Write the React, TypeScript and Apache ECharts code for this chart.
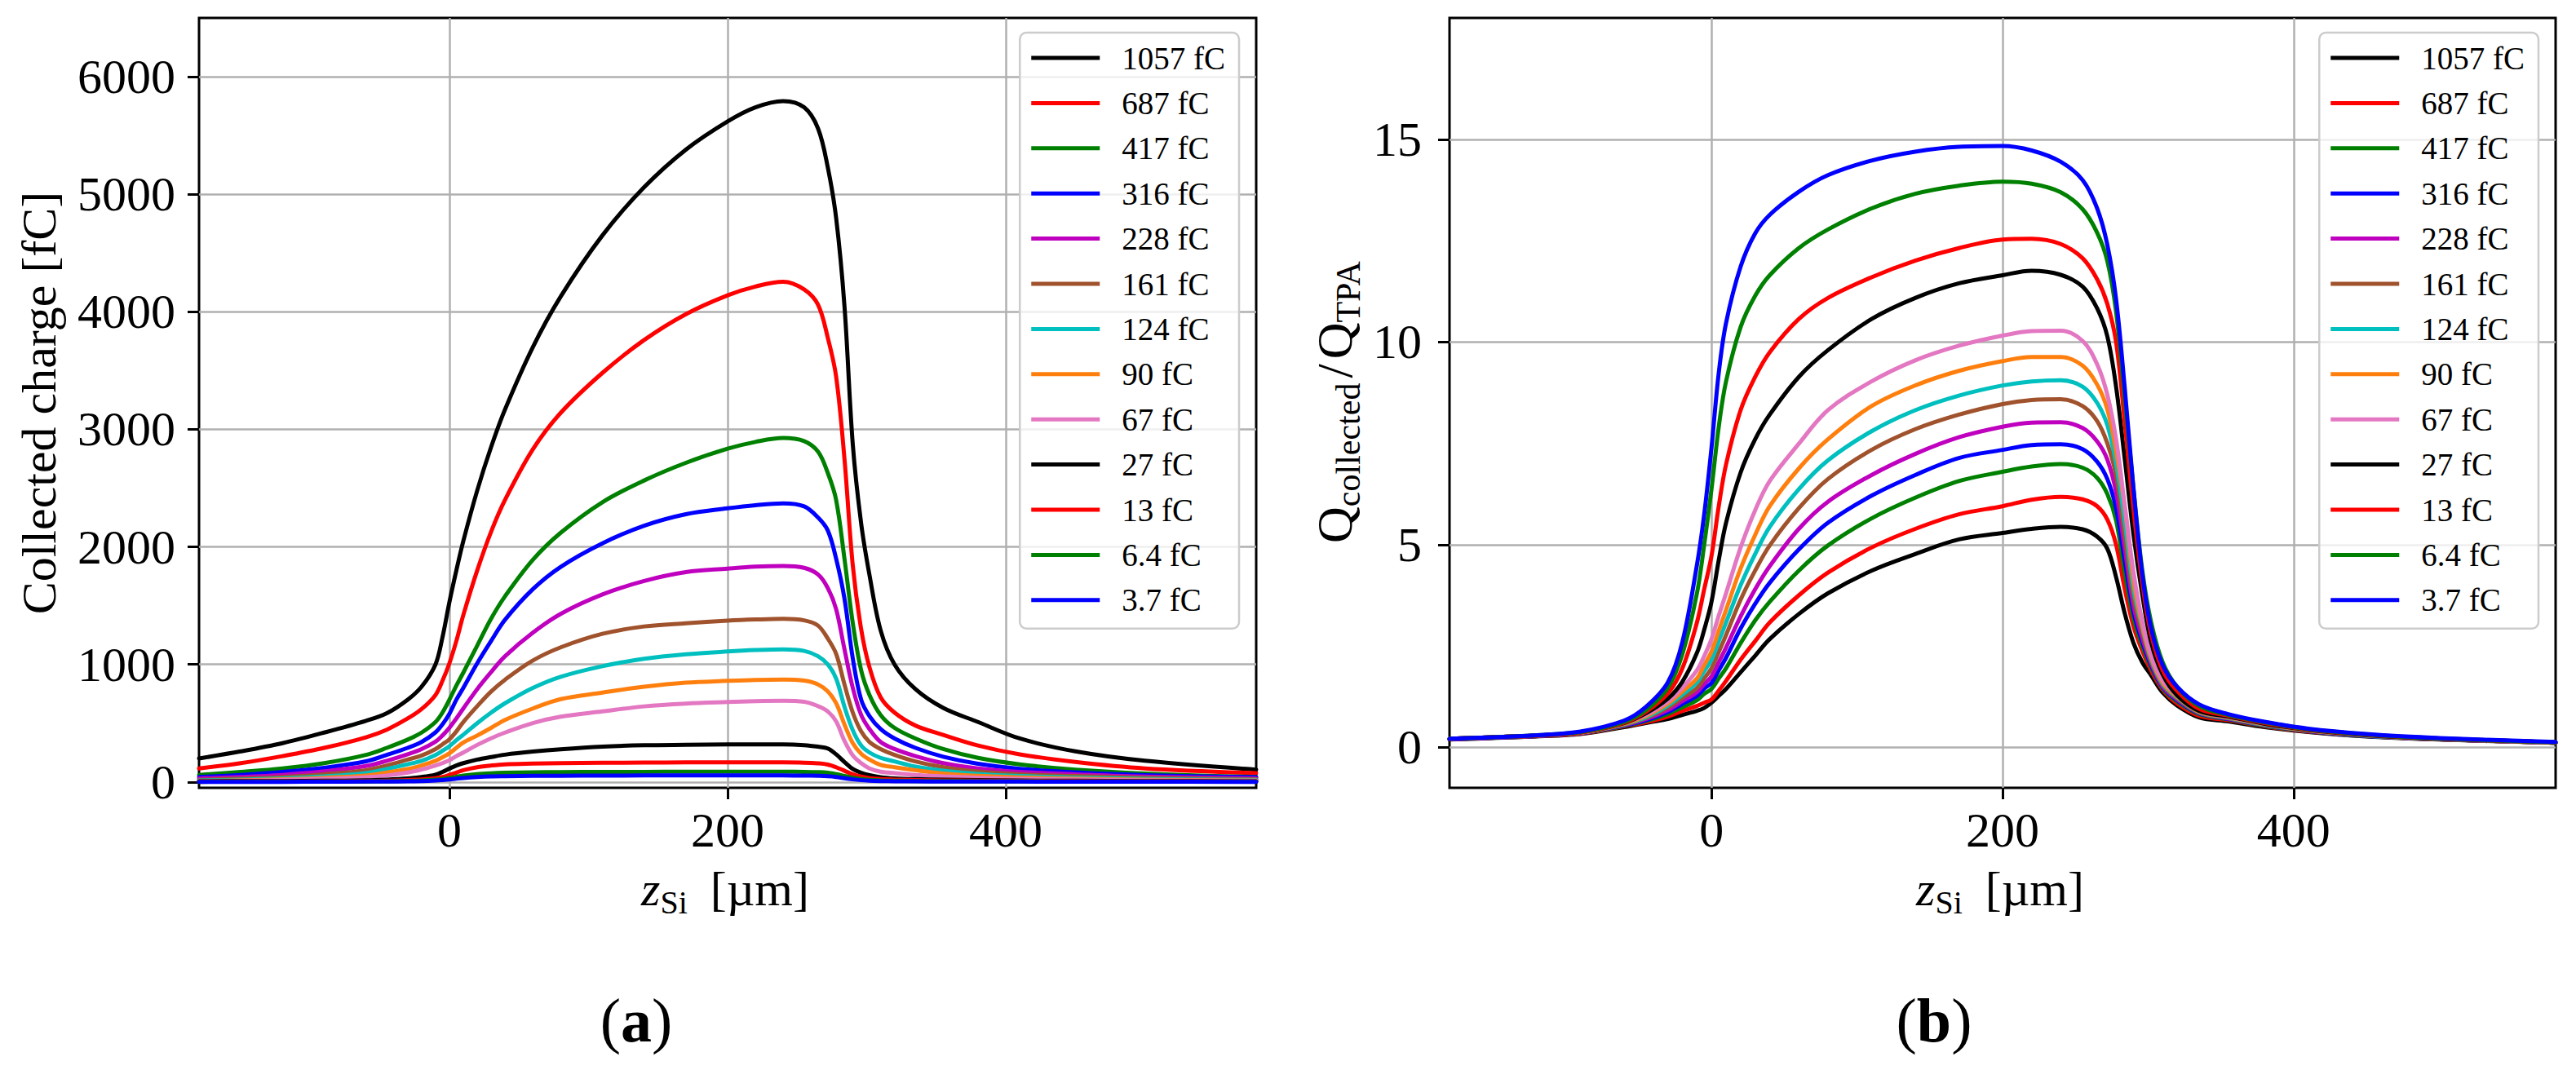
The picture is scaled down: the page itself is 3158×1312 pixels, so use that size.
import React, { useEffect, useRef } from 'react';
import * as echarts from 'echarts';

// depth z_Si [µm] at which every curve was read
const zSi = [-180, -150, -120, -90, -60, -45, -30, -20, -10, -5, 0, 5, 10, 20, 30, 40, 60, 80, 110, 140, 170, 200, 220, 240, 255, 265, 272, 278, 284, 290, 296, 302, 310, 320, 335, 355, 380, 410, 450, 500, 580];

const pulseLabels = ['1057 fC', '687 fC', '417 fC', '316 fC', '228 fC', '161 fC', '124 fC', '90 fC', '67 fC', '27 fC', '13 fC', '6.4 fC', '3.7 fC'];
const pulseColors = ['#000000', '#ff0000', '#008000', '#0000ff', '#bf00bf', '#a0522d', '#00bfbf', '#ff7f0e', '#e377c2', '#000000', '#ff0000', '#008000', '#0000ff'];

const zTicks = [0, 200, 400];
const chargeTicks = [0, 1000, 2000, 3000, 4000, 5000, 6000];
const ratioTicks = [0, 5, 10, 15];

// (a) collected charge [fC]
const charge1057 = [200, 260, 330, 420, 520, 585, 700, 810, 1000, 1230, 1530, 1800, 2050, 2480, 2850, 3170, 3700, 4130, 4650, 5060, 5380, 5620, 5740, 5793, 5740, 5560, 5230, 4800, 4050, 2870, 2200, 1760, 1290, 1000, 790, 630, 510, 370, 260, 180, 105];
const charge687 = [115, 160, 220, 290, 380, 445, 540, 620, 740, 860, 1010, 1200, 1420, 1800, 2130, 2400, 2830, 3140, 3480, 3760, 3980, 4140, 4215, 4255, 4190, 4060, 3780, 3450, 2750, 1840, 1300, 975, 720, 590, 480, 400, 310, 235, 170, 115, 75];
const charge417 = [60, 85, 115, 160, 230, 290, 360, 420, 510, 590, 700, 820, 930, 1160, 1390, 1580, 1890, 2120, 2380, 2565, 2715, 2835, 2893, 2926, 2900, 2810, 2630, 2400, 1900, 1350, 950, 740, 570, 460, 370, 280, 205, 150, 105, 72, 42];
const charge316 = [42, 60, 85, 120, 175, 230, 290, 340, 422, 490, 580, 700, 800, 1010, 1200, 1380, 1640, 1830, 2030, 2180, 2278, 2328, 2355, 2370, 2345, 2250, 2140, 1900, 1560, 1050, 700, 560, 450, 370, 290, 215, 155, 112, 82, 58, 40];
const charge228 = [30, 42, 60, 90, 135, 180, 235, 280, 343, 395, 461, 540, 625, 790, 935, 1070, 1270, 1430, 1595, 1710, 1785, 1815, 1832, 1838, 1822, 1765, 1650, 1470, 1130, 800, 570, 450, 340, 280, 220, 160, 115, 85, 65, 45, 30];
const charge161 = [18, 28, 42, 65, 100, 140, 190, 225, 280, 320, 363, 430, 510, 645, 770, 870, 1033, 1145, 1260, 1323, 1350, 1372, 1382, 1388, 1375, 1330, 1220, 1090, 830, 590, 430, 340, 280, 230, 175, 125, 88, 65, 50, 35, 22];
const charge124 = [12, 20, 30, 47, 75, 110, 150, 180, 230, 265, 304, 355, 402, 500, 590, 670, 800, 895, 985, 1048, 1086, 1110, 1122, 1128, 1115, 1070, 1000, 880, 640, 440, 310, 250, 205, 175, 130, 95, 68, 50, 37, 26, 17];
const charge90 = [8, 14, 22, 35, 55, 80, 110, 140, 180, 210, 244, 290, 335, 395, 460, 528, 625, 705, 760, 810, 845, 860, 868, 871, 862, 830, 770, 670, 490, 330, 240, 190, 145, 125, 100, 72, 52, 38, 28, 19, 12];
const charge67 = [5, 10, 17, 26, 40, 55, 80, 105, 140, 160, 185, 220, 250, 315, 372, 420, 501, 555, 600, 643, 667, 680, 687, 690, 682, 645, 600, 515, 350, 225, 160, 115, 87, 75, 60, 48, 35, 27, 21, 15, 10];
const charge27 = [6, 7, 8, 10, 14, 20, 30, 42, 62, 85, 114, 140, 160, 190, 212, 232, 258, 278, 300, 312, 316, 319, 319, 319, 313, 300, 285, 235, 170, 110, 78, 58, 40, 30, 24, 20, 16, 12, 10, 8, 6];
const charge13 = [3, 3, 4, 5, 7, 10, 16, 22, 32, 42, 60, 80, 100, 125, 140, 150, 156, 160, 163, 165, 166, 166, 166, 166, 164, 158, 148, 125, 95, 65, 45, 32, 24, 20, 16, 13, 11, 9, 7, 5, 4];
const charge6_4 = [1, 2, 2, 3, 4, 6, 9, 12, 19, 25, 33, 44, 54, 67, 74, 78, 82, 84, 85, 86, 87, 87, 87, 87, 86, 83, 78, 67, 51, 35, 24, 17, 13, 10, 8, 7, 6, 5, 4, 3, 2];
const charge3_7 = [1, 1, 1, 2, 3, 4, 5, 7, 12, 16, 21, 28, 34, 42, 47, 49, 52, 53, 54, 55, 55, 55, 55, 55, 54, 52, 49, 42, 32, 22, 15, 11, 8, 6, 5, 4, 4, 3, 2, 2, 1];

// (b) Q_collected / Q_TPA
const ratio1057 = [0.19, 0.23, 0.27, 0.33, 0.5, 0.6, 0.7, 0.8, 0.9, 0.97, 1.1, 1.27, 1.44, 1.85, 2.26, 2.67, 3.29, 3.8, 4.36, 4.77, 5.13, 5.29, 5.39, 5.44, 5.38, 5.2, 4.9, 4.2, 3.3, 2.57, 2.1, 1.78, 1.35, 1.03, 0.74, 0.64, 0.5, 0.38, 0.27, 0.19, 0.11];
const ratio687 = [0.2, 0.24, 0.28, 0.34, 0.52, 0.62, 0.76, 0.9, 1.02, 1.1, 1.18, 1.4, 1.64, 2.16, 2.62, 3.08, 3.75, 4.31, 4.93, 5.39, 5.75, 5.95, 6.11, 6.18, 6.12, 5.95, 5.62, 5.0, 3.9, 2.98, 2.38, 1.9, 1.42, 1.08, 0.78, 0.67, 0.52, 0.39, 0.28, 0.2, 0.11];
const ratio417 = [0.2, 0.24, 0.28, 0.35, 0.53, 0.65, 0.82, 0.99, 1.16, 1.32, 1.44, 1.7, 1.95, 2.57, 3.13, 3.59, 4.36, 4.98, 5.65, 6.16, 6.57, 6.8, 6.93, 6.99, 6.9, 6.65, 6.25, 5.6, 4.3, 3.18, 2.5, 1.98, 1.45, 1.13, 0.82, 0.69, 0.53, 0.4, 0.28, 0.2, 0.11];
const ratio316 = [0.2, 0.24, 0.28, 0.35, 0.54, 0.67, 0.87, 1.07, 1.27, 1.45, 1.59, 1.9, 2.21, 2.93, 3.54, 4.06, 4.88, 5.54, 6.21, 6.72, 7.14, 7.34, 7.46, 7.48, 7.36, 7.05, 6.62, 5.9, 4.6, 3.34, 2.6, 2.03, 1.48, 1.16, 0.84, 0.7, 0.54, 0.4, 0.28, 0.2, 0.11];
const ratio228 = [0.2, 0.24, 0.28, 0.35, 0.55, 0.7, 0.92, 1.14, 1.36, 1.56, 1.75, 2.1, 2.46, 3.23, 3.9, 4.47, 5.39, 6.06, 6.72, 7.24, 7.65, 7.91, 8.01, 8.02, 7.88, 7.55, 7.1, 6.3, 4.9, 3.49, 2.7, 2.08, 1.5, 1.18, 0.85, 0.71, 0.55, 0.41, 0.29, 0.2, 0.11];
const ratio161 = [0.21, 0.25, 0.29, 0.36, 0.56, 0.72, 0.98, 1.22, 1.46, 1.7, 1.95, 2.35, 2.77, 3.64, 4.36, 4.98, 5.9, 6.62, 7.34, 7.85, 8.21, 8.47, 8.57, 8.59, 8.42, 8.05, 7.5, 6.7, 5.2, 3.7, 2.84, 2.13, 1.54, 1.21, 0.86, 0.72, 0.55, 0.41, 0.29, 0.2, 0.11];
const ratio124 = [0.21, 0.25, 0.29, 0.36, 0.57, 0.74, 1.03, 1.3, 1.6, 1.88, 2.16, 2.62, 3.08, 4.0, 4.77, 5.44, 6.37, 7.08, 7.8, 8.32, 8.68, 8.93, 9.03, 9.06, 8.9, 8.5, 7.95, 7.0, 5.55, 3.9, 2.95, 2.18, 1.57, 1.23, 0.87, 0.73, 0.56, 0.42, 0.29, 0.21, 0.12];
const ratio90 = [0.21, 0.25, 0.29, 0.36, 0.58, 0.77, 1.08, 1.38, 1.7, 2.03, 2.36, 2.88, 3.39, 4.41, 5.24, 5.95, 6.88, 7.6, 8.42, 8.93, 9.29, 9.53, 9.63, 9.63, 9.42, 8.95, 8.34, 7.3, 5.9, 4.11, 3.0, 2.22, 1.6, 1.25, 0.88, 0.74, 0.57, 0.42, 0.3, 0.21, 0.12];
const ratio67 = [0.21, 0.25, 0.29, 0.37, 0.6, 0.8, 1.13, 1.47, 1.9, 2.25, 2.67, 3.25, 3.8, 4.93, 5.85, 6.57, 7.49, 8.32, 9.03, 9.55, 9.91, 10.16, 10.27, 10.28, 10.03, 9.45, 8.7, 7.6, 5.95, 4.31, 3.1, 2.27, 1.65, 1.28, 0.9, 0.75, 0.58, 0.43, 0.3, 0.21, 0.12];
const ratio27 = [0.21, 0.25, 0.29, 0.37, 0.6, 0.84, 1.2, 1.62, 2.33, 2.9, 3.59, 4.62, 5.54, 6.78, 7.6, 8.21, 9.14, 9.8, 10.57, 11.09, 11.45, 11.65, 11.76, 11.66, 11.37, 10.83, 10.14, 8.9, 7.1, 5.24, 3.77, 2.6, 1.8, 1.28, 0.9, 0.76, 0.58, 0.43, 0.3, 0.21, 0.12];
const ratio13 = [0.21, 0.25, 0.29, 0.37, 0.61, 0.88, 1.33, 1.95, 3.08, 3.9, 4.72, 5.95, 6.98, 8.32, 9.14, 9.75, 10.57, 11.09, 11.6, 12.01, 12.32, 12.53, 12.55, 12.42, 12.07, 11.55, 10.94, 10.0, 8.0, 5.85, 4.06, 2.8, 1.9, 1.39, 0.95, 0.78, 0.6, 0.44, 0.31, 0.22, 0.12];
const ratio6_4 = [0.21, 0.25, 0.3, 0.38, 0.63, 0.92, 1.47, 2.3, 3.8, 5.0, 6.37, 7.91, 9.03, 10.37, 11.14, 11.65, 12.32, 12.78, 13.3, 13.66, 13.86, 13.96, 13.91, 13.7, 13.28, 12.7, 12.0, 10.75, 8.6, 6.37, 4.37, 3.1, 2.1, 1.49, 1.02, 0.8, 0.62, 0.45, 0.32, 0.22, 0.12];
const ratio3_7 = [0.21, 0.25, 0.3, 0.39, 0.66, 1.0, 1.6, 2.6, 4.5, 5.75, 7.39, 9.24, 10.47, 11.86, 12.68, 13.14, 13.71, 14.12, 14.48, 14.7, 14.82, 14.84, 14.73, 14.45, 14.0, 13.3, 12.4, 11.06, 8.85, 6.37, 4.27, 2.95, 2.03, 1.49, 1.06, 0.82, 0.63, 0.46, 0.33, 0.23, 0.13];

const chargeCurves = [charge1057, charge687, charge417, charge316, charge228, charge161, charge124, charge90, charge67, charge27, charge13, charge6_4, charge3_7];
const ratioCurves = [ratio1057, ratio687, ratio417, ratio316, ratio228, ratio161, ratio124, ratio90, ratio67, ratio27, ratio13, ratio6_4, ratio3_7];

const FONT = '"Liberation Serif", "DejaVu Serif", serif';

type Piece = { t: string; size: number; dy?: number; gap?: number; italic?: boolean; bold?: boolean };

const cssFont = (p: Piece) => `${p.italic ? 'italic ' : ''}${p.bold ? 'bold ' : ''}${p.size}px ${FONT}`;

// a line of text with subscripts; (x, y) is the centre of the main baseline
function mathLabel(pieces: Piece[], x: number, y: number, rotation: number, measure: (t: string, f: string) => number) {
  const widths = pieces.map((p) => measure(p.t, cssFont(p)));
  const total = pieces.reduce((s, p, i) => s + widths[i] + (p.gap || 0), 0);
  let cur = -total / 2;
  const children = pieces.map((p, i) => {
    cur += p.gap || 0;
    const el = {
      type: 'text',
      x: cur,
      y: (p.dy || 0) - 0.3375 * p.size,
      style: {
        text: p.t,
        fontSize: p.size,
        fontFamily: FONT,
        fontStyle: p.italic ? 'italic' : 'normal',
        fontWeight: p.bold ? 'bold' : 'normal',
        fill: '#000',
        align: 'left',
        verticalAlign: 'middle',
      },
    };
    cur += widths[i];
    return el;
  });
  return { type: 'group', x, y, rotation, children, silent: true };
}

export default function App() {
  const chartRef = useRef<HTMLDivElement>(null);

  useEffect(() => {
    if (!chartRef.current) return;
    const chart = echarts.init(chartRef.current, undefined, { renderer: 'svg' });

    const ctx = document.createElement('canvas').getContext('2d')!;
    const measure = (t: string, f: string) => {
      ctx.font = f;
      return ctx.measureText(t).width;
    };

    const gridA = { left: 244, top: 22, width: 1296, height: 944 };
    const gridB = { left: 1777, top: 22, width: 1356, height: 944 };

    const tickFmt = (v: number) => `${v}`;

    const xAxis = (gridIndex: number) => ({
      type: 'value',
      gridIndex,
      min: -180,
      max: 580,
      axisLine: { show: false, onZero: false },
      axisTick: { show: true, length: 14, lineStyle: { color: '#000', width: 3 }, customValues: zTicks },
      axisLabel: {
        customValues: zTicks,
        formatter: tickFmt,
        margin: 22,
        fontSize: 60,
        lineHeight: 60,
        fontFamily: FONT,
        color: '#000',
      },
      splitLine: { show: true, lineStyle: { color: '#b0b0b0', width: 2.5 } },
    });

    const yAxis = (gridIndex: number, min: number, max: number, ticks: number[], split: number, margin: number) => ({
      type: 'value',
      gridIndex,
      min,
      max,
      splitNumber: split,
      axisLine: { show: false, onZero: false },
      axisTick: { show: true, length: 14, lineStyle: { color: '#000', width: 3 }, customValues: ticks },
      axisLabel: {
        customValues: ticks,
        formatter: tickFmt,
        margin,
        fontSize: 60,
        lineHeight: 60,
        fontFamily: FONT,
        color: '#000',
      },
      splitLine: { show: true, lineStyle: { color: '#b0b0b0', width: 2.5 } },
    });

    const makeSeries = (curves: number[][], axisIndex: number) =>
      curves.map((vals, i) => ({
        type: 'line',
        name: pulseLabels[i],
        xAxisIndex: axisIndex,
        yAxisIndex: axisIndex,
        data: zSi.map((z, k) => [z, vals[k]]),
        showSymbol: false,
        symbol: 'none',
        smooth: 0.35,
        color: pulseColors[i],
        itemStyle: { color: pulseColors[i] },
        lineStyle: { color: pulseColors[i], width: 5, join: 'round', cap: 'round' },
        emphasis: { disabled: true },
        silent: true,
      }));

    const legend = (right: number) => ({
      orient: 'vertical',
      right,
      top: 40,
      data: pulseLabels,
      icon: 'rect',
      itemWidth: 84,
      itemHeight: 5,
      itemGap: 15.4,
      padding: [11, 17, 15, 14],
      backgroundColor: 'rgba(255,255,255,0.8)',
      borderColor: '#cccccc',
      borderWidth: 2.5,
      borderRadius: 8,
      selectedMode: false,
      textStyle: { fontSize: 39, lineHeight: 40, fontFamily: FONT, color: '#000', padding: [0, 0, 0, 22] },
    });

    const centreA = gridA.left + gridA.width / 2;
    const centreB = gridB.left + gridB.width / 2;

    const labels = [
      mathLabel([{ t: 'Collected charge [fC]', size: 60 }], 68, 494, Math.PI / 2, measure),
      mathLabel(
        [
          { t: 'Q', size: 62 },
          { t: 'collected', size: 42, dy: 10 },
          { t: '/', size: 62, gap: 6 },
          { t: 'Q', size: 62, gap: 6 },
          { t: 'TPA', size: 42, dy: 10 },
        ],
        1657,
        493,
        Math.PI / 2,
        measure,
      ),
      mathLabel(
        [
          { t: 'z', size: 60, italic: true },
          { t: 'Si', size: 40, dy: 10 },
          { t: '[µm]', size: 60, gap: 28 },
        ],
        centreA - 3,
        1110,
        0,
        measure,
      ),
      mathLabel(
        [
          { t: 'z', size: 60, italic: true },
          { t: 'Si', size: 40, dy: 10 },
          { t: '[µm]', size: 60, gap: 28 },
        ],
        centreB - 3,
        1110,
        0,
        measure,
      ),
      mathLabel(
        [
          { t: '(', size: 76 },
          { t: 'a', size: 76, bold: true },
          { t: ')', size: 76 },
        ],
        780,
        1277,
        0,
        measure,
      ),
      mathLabel(
        [
          { t: '(', size: 76 },
          { t: 'b', size: 76, bold: true },
          { t: ')', size: 76 },
        ],
        2371,
        1277,
        0,
        measure,
      ),
    ];

    const option = {
      animation: false,
      backgroundColor: '#ffffff',
      grid: [
        { ...gridA, show: true, borderColor: '#000', borderWidth: 3, backgroundColor: 'transparent', containLabel: false, outerBoundsMode: 'none' },
        { ...gridB, show: true, borderColor: '#000', borderWidth: 3, backgroundColor: 'transparent', containLabel: false, outerBoundsMode: 'none' },
      ],
      xAxis: [xAxis(0), xAxis(1)],
      yAxis: [yAxis(0, -50, 6500, chargeTicks, 5, 29), yAxis(1, -1, 18, ratioTicks, 4, 34)],
      legend: [legend(3158 - 1519), legend(3158 - 3112)],
      series: [...makeSeries(chargeCurves, 0), ...makeSeries(ratioCurves, 1)],
      graphic: { elements: labels },
    };

    chart.setOption(option);

    return () => {
      chart.dispose();
    };
  }, []);

  return <div ref={chartRef} style={{ position: 'absolute', left: 0, top: 0, width: 3158, height: 1312 }} />;
}
